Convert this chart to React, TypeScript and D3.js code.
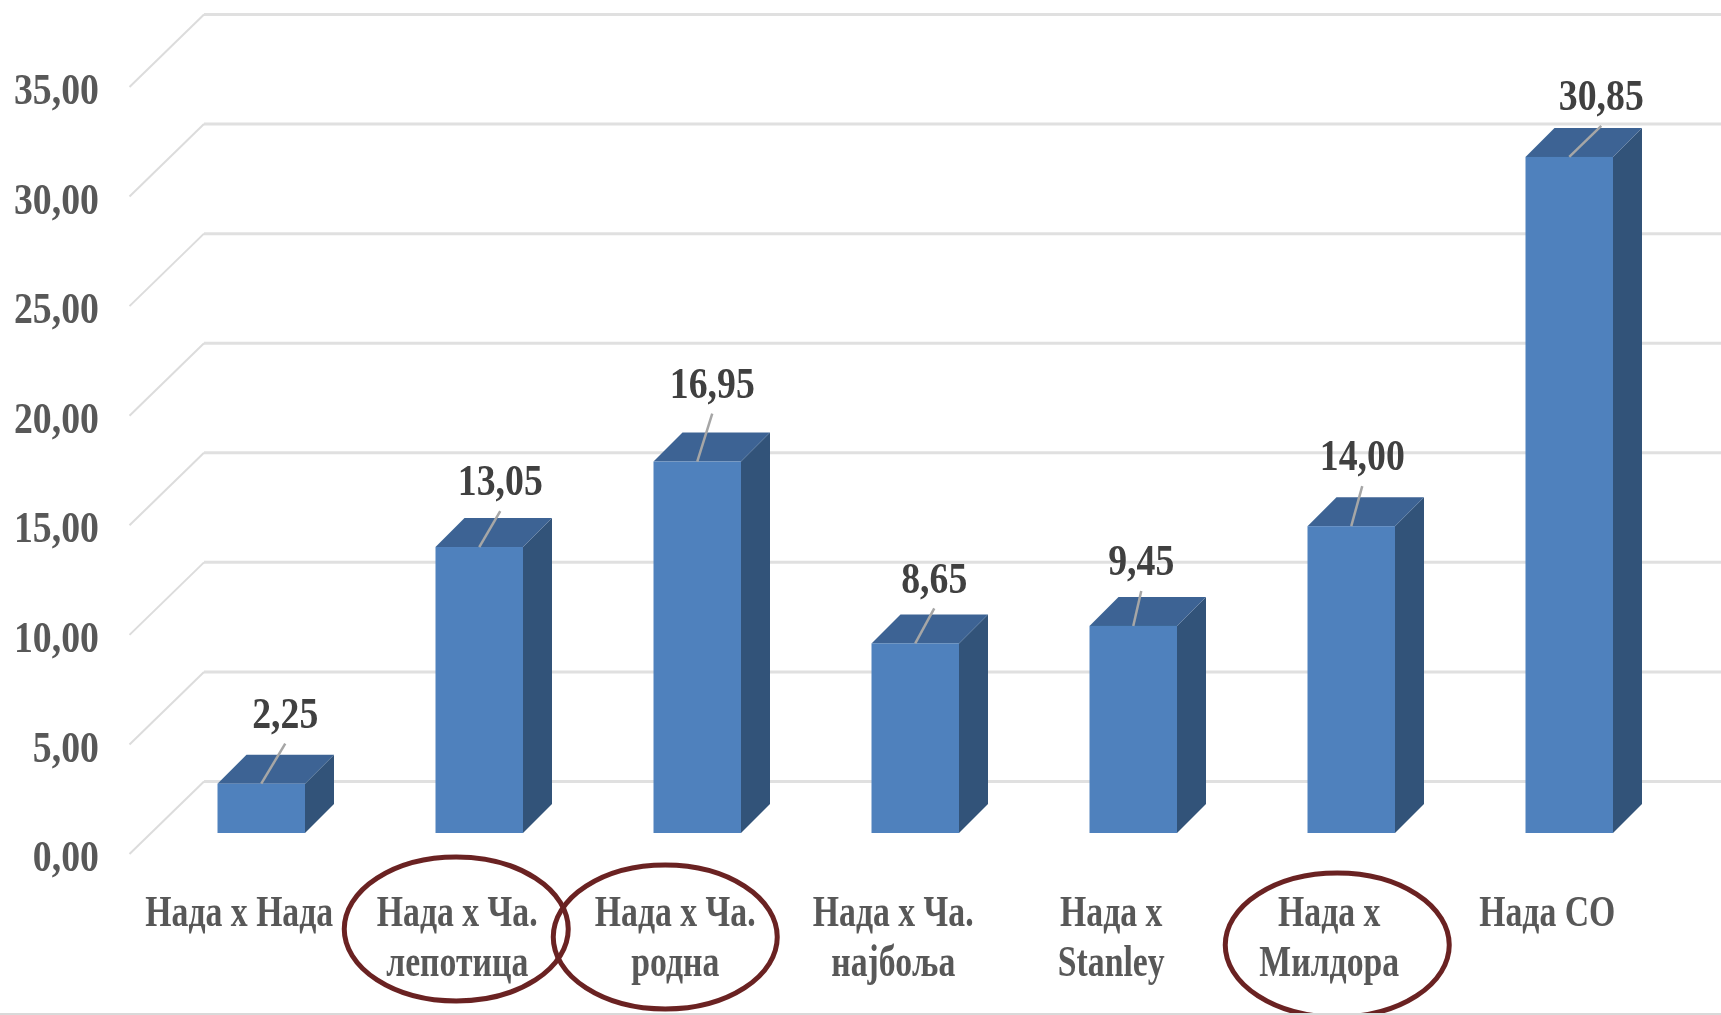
import React from "react";
import * as d3 from "d3";

const categories = [
  ["Нада х Нада"],
  ["Нада х Ча.", "лепотица"],
  ["Нада х Ча.", "родна"],
  ["Нада х Ча.", "најбоља"],
  ["Нада х", "Stanley"],
  ["Нада х", "Милдора"],
  ["Нада CO"],
];
const values = [2.25, 13.05, 16.95, 8.65, 9.45, 14.0, 30.85];
const valueLabels = ["2,25", "13,05", "16,95", "8,65", "9,45", "14,00", "30,85"];
const ticks = [0, 5, 10, 15, 20, 25, 30, 35];
const circledIndexes = [1, 2, 5];

// layout only: leader-line shape for each data label, ellipse nudges
const leaderDx = [24, 21, 15, 19, 8, 11, 32];
const leaderDy = [40, 36, 48, 35, 35, 40, 31];
const ellipseDy = [0, -8, 0, 0, 0, 8, 0];
const ellipseDx = [0, 0, -9, 0, 0, 9, 0];

const W = 1721;
const H = 1015;
const DEPTH = 29;
const FONT = "'Liberation Serif', serif";

const App = () => {
  const yBack = d3.scaleLinear().domain([0, 35]).range([781.5, 14.5]);
  const yFront = (v: number) => yBack(v) + 51.5; // bar front plane
  const yWallFront = (v: number) => yBack(v) + 72.5; // floor/wall front edge
  const barLeft = d3.scaleLinear().domain([0, categories.length - 1]).range([217.5, 1525.5]);
  const bw = 87.5;

  const text = (
    s: string,
    cx: number,
    cy: number,
    size: number,
    fill: string,
    anchor: "middle" | "end",
    key: string,
    sx: number
  ) => (
    <text
      key={key}
      transform={`translate(${cx},${cy}) scale(${sx},1)`}
      textAnchor={anchor}
      dominantBaseline="central"
      fontFamily={FONT}
      fontWeight="bold"
      fontSize={size}
      fill={fill}
    >
      {s}
    </text>
  );

  return (
    <svg
      width={W}
      height={H}
      viewBox={`0 0 ${W} ${H}`}
      style={{ position: "absolute", left: 0, top: 0, background: "#fff" }}
    >
      <defs>
        <filter id="soft" x="-2%" y="-2%" width="104%" height="104%">
          <feGaussianBlur stdDeviation="0.7" />
        </filter>
      </defs>
      <g filter="url(#soft)">
        {ticks.map((t) => (
          <g key={t}>
            <line x1={204} x2={W} y1={yBack(t)} y2={yBack(t)} stroke="#e0e0e0" strokeWidth={3} />
            <line
              x1={129.5}
              y1={yWallFront(t)}
              x2={204}
              y2={yBack(t)}
              stroke="#dcdcdc"
              strokeWidth={2}
            />
            {text(d3.format(".2f")(t).replace(".", ","), 99, yWallFront(t) + 2, 45, "#595959", "end", `t${t}`, 0.84)}
          </g>
        ))}

        {values.map((v, i) => {
          const l = barLeft(i);
          const r = l + bw;
          const top = yFront(v);
          const base = yFront(0);
          const cx = l + bw / 2;
          const lx = cx + leaderDx[i];
          const ly = top - leaderDy[i];
          return (
            <g key={i}>
              <polygon
                points={`${r},${top} ${r + DEPTH},${top - DEPTH} ${r + DEPTH},${base - DEPTH} ${r},${base}`}
                fill="#325379"
              />
              <polygon
                points={`${l},${top} ${l + DEPTH},${top - DEPTH} ${r + DEPTH},${top - DEPTH} ${r},${top}`}
                fill="#3c6494"
              />
              <rect x={l} y={top} width={bw} height={base - top} fill="#4f81bd" />
              <line x1={cx} y1={top} x2={lx} y2={ly} stroke="#a6a6a6" strokeWidth={2.5} />
              {text(valueLabels[i], lx, ly - 31, 45, "#404040", "middle", `v${i}`, 0.84)}
            </g>
          );
        })}

        {categories.map((lines, i) => {
          const cx = barLeft(i) + bw / 2 - 22;
          return lines.map((s, j) => text(s, cx, 911 + j * 50, 45, "#595959", "middle", `c${i}-${j}`, 0.75));
        })}

        {circledIndexes.map((i) => (
          <ellipse
            key={i}
            cx={barLeft(i) + bw / 2 - 23 + ellipseDx[i]}
            cy={937 + ellipseDy[i]}
            rx={112}
            ry={72}
            fill="none"
            stroke="#6b2222"
            strokeWidth={5}
          />
        ))}

        <line x1={0} x2={W} y1={1014} y2={1014} stroke="#d9d9d9" strokeWidth={2} />
      </g>
    </svg>
  );
};

export default App;
